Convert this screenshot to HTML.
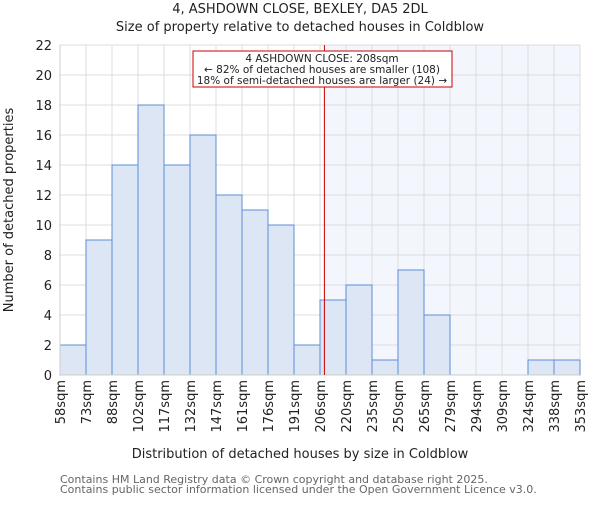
<!DOCTYPE html>
<html><head><meta charset="utf-8"><style>body{margin:0;background:#fff}svg{font-family:"DejaVu Sans","Liberation Sans",sans-serif}</style></head>
<body>
<svg id="c" width="600" height="500"></svg>
<script>
const binLabels=["58sqm","73sqm","88sqm","102sqm","117sqm","132sqm","147sqm","161sqm","176sqm","191sqm","206sqm","220sqm","235sqm","250sqm","265sqm","279sqm","294sqm","309sqm","324sqm","338sqm","353sqm"];
const counts=[2,9,14,18,14,16,12,11,10,2,5,6,1,7,4,0,0,0,1,1];
const yTicks=[0,2,4,6,8,10,12,14,16,18,20,22];
const markerValue=208;
const binStart=58, binWidth=14.75;
const svg=document.getElementById('c');const NS='http://www.w3.org/2000/svg';
const L=60,R=580,T=45,B=375,yMax=22;
const bw=(R-L)/counts.length;
const x=v=>L+(v-binStart)/binWidth*bw;
const y=v=>B-v/yMax*(B-T);
function el(t,a,p){const e=document.createElementNS(NS,t);for(const k in a)e.setAttribute(k,a[k]);(p||svg).appendChild(e);return e;}
function txt(s,a){const e=el('text',a);e.textContent=s;return e;}
const mx=x(markerValue);
const sh=el('rect',{x:mx,y:T,width:R-mx,height:B-T,fill:'#f3f6fd'});


const g=el('g',{});
yTicks.forEach(t=>el('line',{x1:L,x2:R,y1:y(t),y2:y(t),stroke:'#dcdcdc','stroke-width':1},g));
for(let i=0;i<=counts.length;i++)el('line',{x1:L+i*bw,x2:L+i*bw,y1:T,y2:B,stroke:'#dcdcdc','stroke-width':1},g);
counts.forEach((c,i)=>{const r=el('rect',{x:L+i*bw,y:y(c),width:bw,height:B-y(c),fill:'#dce6f4',stroke:'#5b8fd6','stroke-width':1});

});
el('line',{x1:L,x2:L,y1:T,y2:B,stroke:'#ccc'});el('line',{x1:L,x2:R,y1:B,y2:B,stroke:'#ccc'});
yTicks.forEach(t=>{const e=txt(t,{x:L-8,y:y(t)+5,'text-anchor':'end','font-size':13,fill:'#222'});

});
binLabels.forEach((s,i)=>{const px=L+i*bw+5;const e=txt(s,{x:0,y:0,transform:`translate(${px},380) rotate(-90)`,'text-anchor':'end','font-size':13,fill:'#222'});

});
const ml=el('line',{x1:mx,x2:mx,y1:T,y2:B,stroke:'#cc0000','stroke-width':1});


const bx=el('rect',{x:193,y:51,width:259,height:36,fill:'#fff',stroke:'#cc0000','stroke-width':1});


["4 ASHDOWN CLOSE: 208sqm","← 82% of detached houses are smaller (108)","18% of semi-detached houses are larger (24) →"].forEach((s,i)=>{const e=txt(s,{x:322,y:62+i*11,'text-anchor':'middle','font-size':10.5,fill:'#222'});

});
const t1=txt("4, ASHDOWN CLOSE, BEXLEY, DA5 2DL",{x:300,y:13,'text-anchor':'middle','font-size':13,fill:'#222'});

const t2=txt("Size of property relative to detached houses in Coldblow",{x:300,y:31,'text-anchor':'middle','font-size':13,fill:'#222'});

const xt=txt("Distribution of detached houses by size in Coldblow",{x:300,y:458,'text-anchor':'middle','font-size':13,fill:'#222'});

const yt=txt("Number of detached properties",{x:0,y:0,transform:'translate(13,210) rotate(-90)','text-anchor':'middle','font-size':13,fill:'#222'});

["Contains HM Land Registry data © Crown copyright and database right 2025.","Contains public sector information licensed under the Open Government Licence v3.0."].forEach((s,i)=>{const e=txt(s,{x:60,y:483+i*10,'font-size':11,fill:'#666'});

});
</script>
</body></html>
